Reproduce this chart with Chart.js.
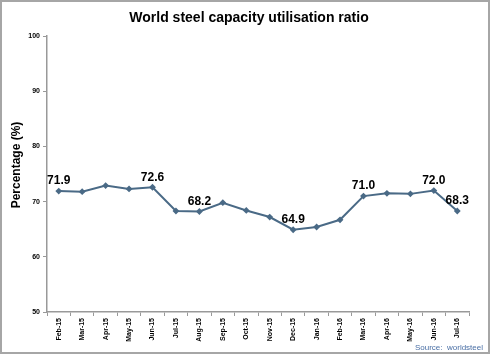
<!DOCTYPE html>
<html>
<head>
<meta charset="utf-8">
<script src="https://cdn.jsdelivr.net/npm/chart.js@4"></script>
<style>
  html, body { margin: 0; padding: 0; background: #fff; }
  #wrap { width: 490px; height: 354px; }
</style>
</head>
<body>
<div id="wrap"><canvas id="chart" width="490" height="354"></canvas></div>
<script>
const months = [
  "Feb-15", "Mar-15", "Apr-15", "May-15", "Jun-15", "Jul-15", "Aug-15", "Sep-15", "Oct-15",
  "Nov-15", "Dec-15", "Jan-16", "Feb-16", "Mar-16", "Apr-16", "May-16", "Jun-16", "Jul-16",
];
const ratio = [71.9, 71.8, 72.9, 72.3, 72.6, 68.3, 68.2, 69.8, 68.4, 67.2, 64.9, 65.4, 66.7, 71.0, 71.5, 71.4, 72.0, 68.3];
const labelledPoints = [0, 4, 6, 10, 13, 16, 17];
const yTicks = [50, 60, 70, 80, 90, 100];

const font = "'Liberation Sans', Arial, sans-serif";

// titles, data labels, source and the frame
const decorations = {
  id: "decorations",
  afterDraw: (chart) => {
    const ctx = chart.ctx;
    ctx.save();
    ctx.fillStyle = "#000";
    ctx.textAlign = "center";
    ctx.textBaseline = "middle";
    ctx.font = "bold 14px " + font;
    ctx.fillText("World steel capacity utilisation ratio", 249, 18);

    ctx.save();
    ctx.translate(17, 165);
    ctx.rotate(-Math.PI / 2);
    ctx.font = "bold 12px " + font;
    ctx.fillText("Percentage (%)", 0, 0);
    ctx.restore();

    const meta = chart.getDatasetMeta(0);
    ctx.font = "bold 12px " + font;
    labelledPoints.forEach((i) => {
      const p = meta.data[i];
      ctx.fillText(ratio[i].toFixed(1), p.x, p.y - 10);
    });

    ctx.fillStyle = "#4a6fa5";
    ctx.textAlign = "right";
    ctx.font = "8px " + font;
    ctx.fillText("Source:  worldsteel", 483, 348);

    ctx.strokeStyle = "#a6a6a6";
    ctx.lineWidth = 2;
    ctx.strokeRect(1, 1, 488, 352);
    ctx.restore();
  },
};

new Chart(document.getElementById("chart"), {
  type: "line",
  data: {
    labels: months,
    datasets: [
      {
        data: ratio,
        borderColor: "#4a6a86",
        backgroundColor: "#4a6a86",
        borderWidth: 2,
        tension: 0,
        pointStyle: "rectRot",
        pointRadius: 2,
        fill: false,
      },
    ],
  },
  options: {
    responsive: false,
    animation: false,
    layout: { padding: { top: 36, right: 21, left: 0, bottom: 0 } },
    plugins: {
      legend: { display: false },
      tooltip: { enabled: false },
    },
    scales: {
      x: {
        offset: true,
        grid: {
          offset: true,
          drawOnChartArea: false,
          tickLength: 4,
          color: "#999",
        },
        border: { color: "#999", width: 1.5 },
        ticks: {
          minRotation: 90,
          maxRotation: 90,
          autoSkip: false,
          padding: 2,
          color: "#000",
          font: { family: font, size: 7, weight: "bold" },
        },
        afterFit: (scale) => { scale.height = 42; },
      },
      y: {
        min: 50,
        max: 100,
        afterBuildTicks: (scale) => { scale.ticks = yTicks.map((v) => ({ value: v })); },
        grid: {
          drawOnChartArea: false,
          tickLength: 4,
          color: "#999",
        },
        border: { color: "#999", width: 1.5 },
        ticks: {
          padding: 3,
          color: "#000",
          font: { family: font, size: 7, weight: "bold" },
        },
        afterFit: (scale) => { scale.width = 47; },
      },
    },
  },
  plugins: [decorations],
});
</script>
</body>
</html>
